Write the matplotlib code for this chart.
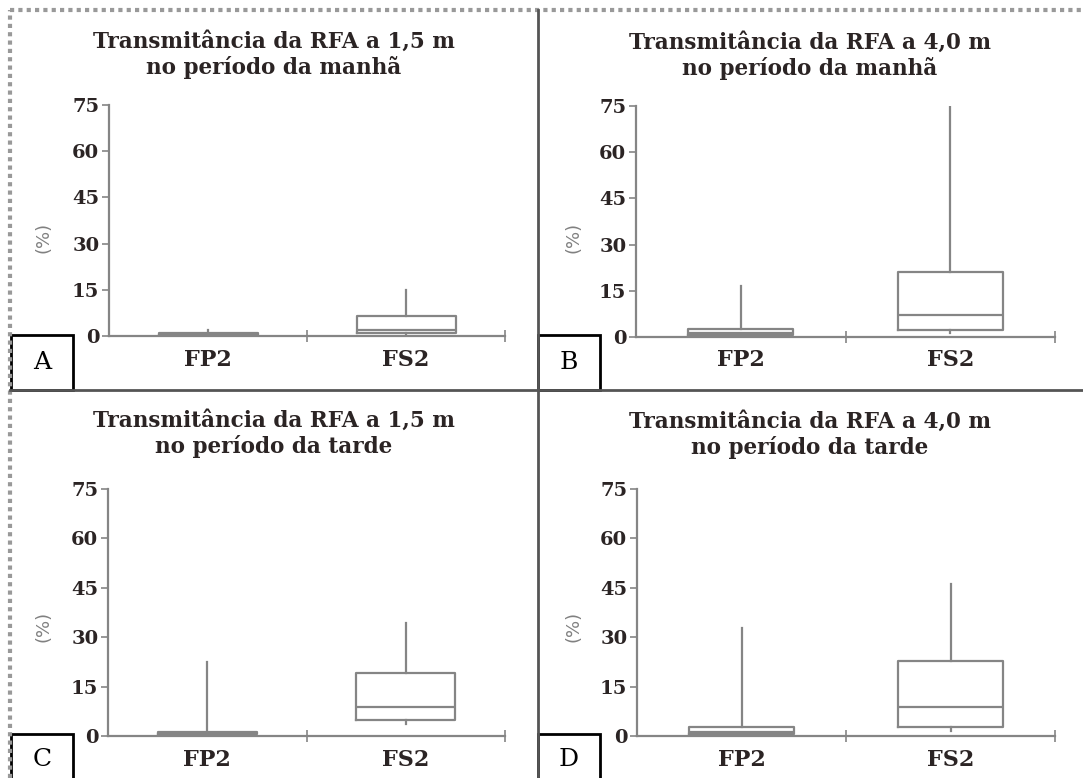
import numpy as np
import matplotlib
matplotlib.use("Agg")
import matplotlib.pyplot as plt
from matplotlib.lines import Line2D
from matplotlib.patches import Rectangle

# data (percent)
categories = ["FP2", "FS2"]
panel_letters = ["A", "B", "C", "D"]
titles = ["Transmitância da RFA a 1,5 m\nno período da manhã",
          "Transmitância da RFA a 4,0 m\nno período da manhã",
          "Transmitância da RFA a 1,5 m\nno período da tarde",
          "Transmitância da RFA a 4,0 m\nno período da tarde"]
y_ticks = [0, 15, 30, 45, 60, 75]

# [FP2, FS2] for each panel A..D
whislo = [[0.2, 0.3], [0.4, 1.4], [0.0, 3.6], [0.3, 1.6]]
q1     = [[0.4, 0.9], [0.75, 2.2], [0.5, 4.9], [0.7, 2.6]]
med    = [[0.6, 1.9], [1.3, 7.0], [0.7, 8.9], [1.35, 8.9]]
q3     = [[1.1, 6.4], [2.5, 21.0], [1.1, 19.0], [2.8, 22.7]]
whishi = [[2.0, 15.0], [16.5, 74.6], [22.6, 34.3], [32.8, 46.1]]

W, H = 1083, 778
fig = plt.figure(figsize=(W/100, H/100), dpi=100)
fig.patch.set_facecolor("white")

# axes rectangles in pixels: left, top, right, bottom
rects = [(109, 105, 505, 336), (636, 106, 1055, 337),
         (108, 489, 505, 736), (637, 489, 1055, 736)]
# title centre (x, y) and "(%)" position in pixels
title_pos = [(274, 55), (810, 56), (274, 434), (810, 435)]
ylab_pos = [(53, 237), (582, 237), (52, 626), (582, 626)]
gray = "#858585"
txt = "#2b2424"
serif = ["DejaVu Serif"]

for i, (l, t, r, b) in enumerate(rects):
    ax = fig.add_axes([l/W, 1 - b/H, (r-l)/W, (b-t)/H])
    stats = []
    for j, c in enumerate(categories):
        stats.append(dict(label=c, whislo=whislo[i][j], q1=q1[i][j], med=med[i][j],
                          q3=q3[i][j], whishi=whishi[i][j], fliers=[]))
    ax.bxp(stats, positions=[0.5, 1.5], widths=0.5, showcaps=False,
           boxprops=dict(color=gray, lw=1.6),
           whiskerprops=dict(color=gray, lw=1.6),
           medianprops=dict(color=gray, lw=1.6))
    ax.set_xlim(0, 2)
    ax.set_ylim(0, 75)
    for s in ["top", "right"]:
        ax.spines[s].set_visible(False)
    for s in ["left", "bottom"]:
        ax.spines[s].set_color(gray)
        ax.spines[s].set_linewidth(1.6)
    ax.set_yticks(y_ticks)
    ax.set_yticklabels([str(v) for v in y_ticks], family=serif, weight="bold",
                       fontsize=14, color=txt)
    ax.tick_params(axis="y", length=5, width=1.2, color=gray, pad=2)
    ax.set_xticks([0.5, 1.5])
    ax.set_xticklabels(categories, family=serif, weight="bold", fontsize=16, color=txt)
    ax.tick_params(axis="x", length=0, pad=9)
    ax.set_xticks([1, 2], minor=True)
    ax.tick_params(axis="x", which="minor", direction="inout", length=9, width=1.2, color=gray)
    ax.set_ylabel("(%)", fontsize=13, color="#808080")
    ax.yaxis.set_label_coords((ylab_pos[i][0] - l)/(r - l), (b - ylab_pos[i][1])/(b - t))
    fig.text(title_pos[i][0]/W, 1 - title_pos[i][1]/H, titles[i], family=serif,
             weight="bold", fontsize=15.5, color=txt, ha="center", va="center",
             linespacing=1.15, multialignment="center")

# panel frame lines
fig.add_artist(Line2D([10/W, 10/W], [0, 1 - 10/H], color="#999999", lw=3, ls=(0, (1, 1))))
fig.add_artist(Line2D([10/W, 1], [1 - 10/H, 1 - 10/H], color="#999999", lw=3, ls=(0, (1, 1))))
fig.add_artist(Line2D([538/W, 538/W], [0, 1 - 10/H], color="#555555", lw=2))
fig.add_artist(Line2D([10/W, 1], [1 - 390/H, 1 - 390/H], color="#555555", lw=2))

# letter boxes
boxes = [(11, 335, 73, 390), (538, 335, 600, 390), (11, 734, 73, 780), (538, 734, 600, 780)]
letter_y = [362, 362, 760, 760]
for k, (l, t, r, b) in enumerate(boxes):
    fig.add_artist(Rectangle((l/W, 1 - b/H), (r-l)/W, (b-t)/H, transform=fig.transFigure,
                             fill=False, ec="black", lw=2))
    fig.text((l + r)/2/W, 1 - letter_y[k]/H, panel_letters[k],
             family=serif, fontsize=18, ha="center", va="center", color="black")

fig.savefig("out.png", dpi=100)
